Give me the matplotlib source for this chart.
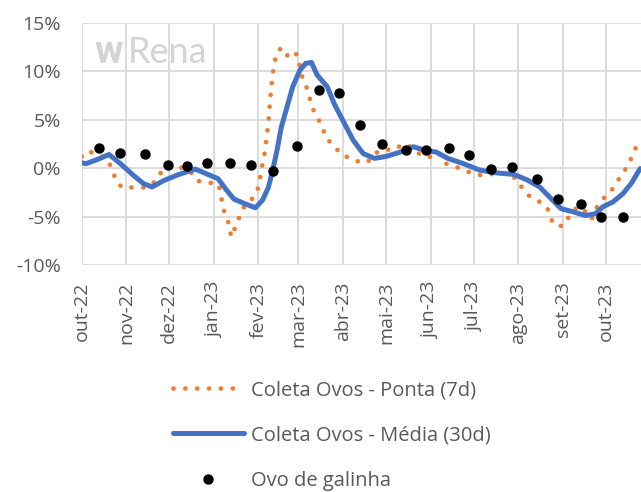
import pandas as pd
import matplotlib
matplotlib.use("Agg")
import matplotlib.pyplot as plt
from matplotlib.lines import Line2D

plt.rcParams['font.family'] = ['Open Sans', 'DejaVu Sans']

# days counted from 2022-10-01
ponta_days = [0, 4, 12, 18, 21, 24, 28, 37, 45, 51, 55, 60, 68, 75, 80, 87, 95, 97, 98, 101,
              103, 104, 107, 110, 113, 118, 122, 124, 125, 127, 128, 129, 130, 131, 132, 133,
              134, 136, 139, 143, 147, 151, 152, 154, 157, 159, 161, 165, 168, 170, 176, 180,
              187, 194, 199, 204, 210, 218, 224, 229, 235, 242, 248, 254, 261, 268, 275, 282,
              289, 296, 303, 307, 311, 317, 323, 326, 328, 333, 337, 340, 344, 348, 352, 355,
              359, 363, 368, 372, 376, 380, 383, 386]
ponta_vals = [1.2, 1.75, 1.4, 0.9, -0.1, -1.3, -2.0, -2.0, -2.0, -1.4, -0.5, 0.2, 0.1, -0.2,
              -1.3, -1.5, -1.6, -2.6, -4.0, -5.1, -6.0, -7.1, -6.1, -5.0, -4.0, -3.3, -2.5,
              -1.4, -0.2, 1.1, 2.2, 3.4, 4.6, 6.5, 8.3, 9.6, 10.7, 11.9, 12.4, 11.6, 12.1,
              11.5, 10.3, 9.2, 8.2, 7.1, 6.1, 5.0, 4.1, 3.1, 2.3, 1.5, 1.0, 0.6, 0.6, 1.5,
              1.9, 1.9, 2.5, 2.2, 1.5, 1.1, 1.65, 0.45, 0.1, -0.3, -0.7, -0.75, -0.5, -0.6,
              -1.1, -2.1, -2.8, -3.3, -3.85, -4.6, -5.7, -6.0, -5.8, -4.8, -4.2, -4.0, -4.7,
              -5.3, -4.0, -3.2, -2.5, -1.7, -0.65, 0.1, 1.1, 2.1]

media_days = [0, 3, 12, 19, 27, 36, 43, 49, 57, 66, 79, 87, 95, 101, 106, 114, 121, 126, 130,
              133, 136, 139, 143, 147, 152, 156, 160, 164, 171, 176, 183, 189, 196, 204, 212,
              222, 231, 240, 247, 255, 266, 277, 289, 301, 310, 319, 326, 334, 342, 351, 358,
              363, 370, 377, 383, 389]
media_vals = [0.55, 0.45, 0.95, 1.4, 0.45, -0.75, -1.6, -1.95, -1.3, -0.75, -0.1, -0.6, -1.1,
              -2.3, -3.2, -3.7, -4.1, -3.3, -2.0, -0.25, 1.8, 4.2, 6.3, 8.4, 10.1, 10.8, 10.9,
              9.6, 8.4, 6.6, 4.6, 2.9, 1.5, 1.0, 1.2, 1.65, 2.2, 1.8, 1.65, 1.0, 0.45, -0.2,
              -0.5, -0.65, -1.2, -1.95, -3.0, -4.2, -4.5, -4.9, -4.7, -4.0, -3.5, -2.65,
              -1.55, -0.05]

ovo_days = [12, 27, 44, 60, 73, 87, 103, 118, 133, 150, 165, 179, 194, 209, 226, 240, 256,
            270, 285, 300, 317, 332, 348, 362, 377]
ovo_vals = [2.1, 1.6, 1.4, 0.35, 0.2, 0.5, 0.55, 0.3, -0.27, 2.3, 8.1, 7.7, 4.4, 2.5, 1.9,
            1.86, 2.1, 1.3, -0.1, 0.1, -1.1, -3.2, -3.7, -5.0, -5.0]

month_labels = ['out-22', 'nov-22', 'dez-22', 'jan-23', 'fev-23', 'mar-23', 'abr-23',
                'mai-23', 'jun-23', 'jul-23', 'ago-23', 'set-23', 'out-23']
y_ticks = [-10, -5, 0, 5, 10, 15]

base = pd.Timestamp('2022-10-01')
to_date = lambda d: base + pd.to_timedelta(d, unit='D')

orange = '#ED7D31'
blue = '#4472C4'
txt = '#595959'

fig = plt.figure(figsize=(6.41, 4.92), dpi=100)
ax = fig.add_axes([0.1275, 0.4614, 0.8725, 0.4925])

ax.plot(to_date(ponta_days), ponta_vals, color=orange, lw=3.4,
        linestyle=(0, (0.01, 2.5)), dash_capstyle='round', zorder=3)
ax.plot(to_date(media_days), media_vals, color=blue, lw=3.6, solid_capstyle='round', zorder=4)
ax.plot(to_date(ovo_days), ovo_vals, 'o', color='black', ms=6.5, zorder=5)

ticks = pd.date_range('2022-10-01', '2023-10-01', freq='MS')
ax.set_xticks(ticks)
ax.set_xticklabels(month_labels, rotation=90, fontsize=14, color=txt)
ax.set_xlim(base, to_date(389.6))
ax.set_ylim(-10, 15)
ax.set_yticks(y_ticks)
ax.set_yticklabels([f'{v}%' for v in y_ticks], fontsize=14, color=txt)
ax.tick_params(axis='both', length=0)
ax.tick_params(axis='x', pad=12)
ax.tick_params(axis='y', pad=15)
ax.grid(True, color='#d9d9d9', lw=1.3, zorder=2)
for s in ax.spines.values():
    s.set_visible(False)

# watermark (behind the grid)
ax.text(0.022, 0.875, 'w', transform=ax.transAxes, fontsize=28, fontweight='bold',
        color='#d4d4d4', va='center', family='Roboto', zorder=1)
ax.text(0.082, 0.875, 'Rena', transform=ax.transAxes, fontsize=26,
        color='#d4d4d4', va='center', family='Lato', zorder=1)

handles = [Line2D([], [], color=orange, lw=3.4, linestyle=(0, (0.01, 2.5)), dash_capstyle='round'),
           Line2D([], [], color=blue, lw=3.6, solid_capstyle='round'),
           Line2D([], [], color='black', marker='o', ms=6.5, lw=0)]
labels = ['Coleta Ovos - Ponta (7d)', 'Coleta Ovos - Média (30d)', 'Ovo de galinha']
leg = fig.legend(handles, labels, loc='upper left', bbox_to_anchor=(0.242, 0.264),
                 frameon=False, fontsize=14.5, handlelength=3.5, handletextpad=0.35,
                 labelspacing=1.25)
for t in leg.get_texts():
    t.set_color(txt)

fig.savefig('out.png', dpi=100)
